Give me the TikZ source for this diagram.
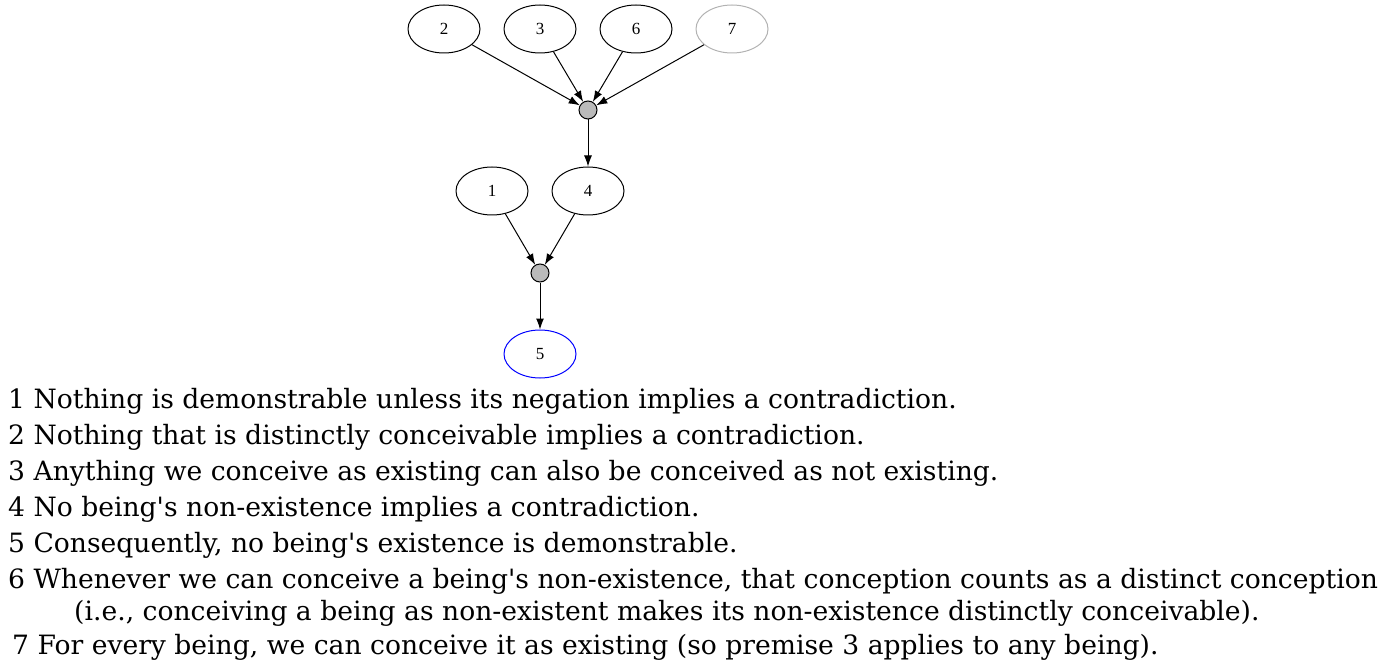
\documentclass[tikz,border=0pt]{standalone}
\usepackage{fontspec}
\setmainfont{Liberation Serif}
\newfontfamily\keyfont[Ligatures=ResetAll]{DejaVu Serif}
\usetikzlibrary{arrows.meta,shapes.geometric}
\tikzset{
  claim/.style={draw, line width=1pt, ellipse, minimum width=72pt, minimum height=48pt, inner sep=0pt, font=\fontsize{17}{19}\selectfont},
  junction/.style={draw, line width=1pt, circle, fill=black!27, minimum size=18pt, inner sep=0pt},
  link/.style={line width=1pt, -{Latex[length=11pt,width=8pt]}},
  premise/.style={anchor=base west, inner sep=0pt, font=\keyfont\fontsize{26.6}{30}\selectfont}
}
\begin{document}
\begin{tikzpicture}[x=1pt, y=-1pt]
        \useasboundingbox (0,0) rectangle (1386,668);

        % Premises feeding the first step
        \node[claim] (n2) at (444,29) {2};
        \node[claim] (n3) at (540,29) {3};
        \node[claim] (n6) at (636,29) {6};
        \node[claim, draw=black!30] (n7) at (732,29) {7};
        \node[junction] (j1) at (588,110) {};

        % Intermediate step
        \node[claim] (n1) at (492,191) {1};
        \node[claim] (n4) at (588,191) {4};
        \node[junction] (j2) at (540,273) {};

        % Conclusion
        \node[claim, draw=blue] (n5) at (540,354) {5};

        \draw[link] (n2) -- (j1);
        \draw[link] (n3) -- (j1);
        \draw[link] (n6) -- (j1);
        \draw[link] (n7) -- (j1);
        \draw[link] (j1) -- (n4);
        \draw[link] (n1) -- (j2);
        \draw[link] (n4) -- (j2);
        \draw[link] (j2) -- (n5);

        % Key
        \node[premise] (t1) at (8,408) {1 Nothing is demonstrable unless its negation implies a contradiction.};
        \node[premise] (t2) at (8,444) {2 Nothing that is distinctly conceivable implies a contradiction.};
        \node[premise] (t3) at (8,480) {3 Anything we conceive as existing can also be conceived as not existing.};
        \node[premise] (t4) at (8,516) {4 No being's non-existence implies a contradiction.};
        \node[premise] (t5) at (8,552) {5 Consequently, no being's existence is demonstrable.};
        \node[premise] (t6) at (8,588) {6 Whenever we can conceive a being's non-existence, that conception counts as a distinct conception};
        \node[premise] (t6b) at (74,620) {(i.e., conceiving a being as non-existent makes its non-existence distinctly conceivable).};
        \node[premise] (t7) at (12,654) {7 For every being, we can conceive it as existing (so premise 3 applies to any being).};
\end{tikzpicture}
\end{document}
